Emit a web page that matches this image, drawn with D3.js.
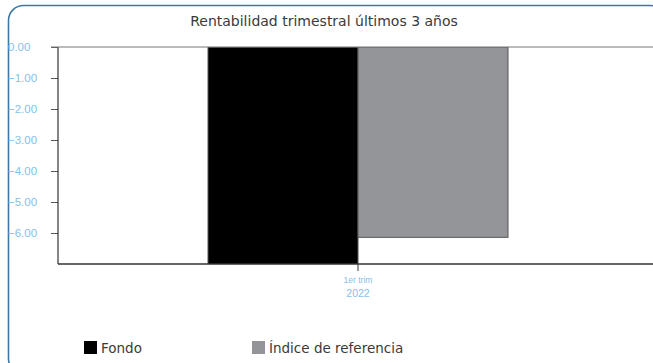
<!DOCTYPE html>
<html>
<head>
<meta charset="utf-8">
<script src="https://cdn.jsdelivr.net/npm/d3@7"></script>
<style>
  body { margin: 0; background: #fff; }
  svg { display: block; font-family: 'DejaVu Sans', sans-serif; }
</style>
</head>
<body>
<div id="chart"></div>
<script>
const categories = ['1er trim|2022'];
const seriesNames = ['Fondo', 'Índice de referencia'];
const seriesColors = ['#000000', '#939598'];
const fondoValues = [-7.3];
const indiceValues = [-6.14];
const yTicks = [0, -1, -2, -3, -4, -5, -6];

const width = 653;
const height = 363;
const margin = { top: 47, right: -5, bottom: 99, left: 58 };

const svg = d3.select('#chart').append('svg').attr('width', width).attr('height', height);

// frame
svg.append('rect')
  .attr('x', 8.5).attr('y', 5.5)
  .attr('width', 657).attr('height', 368)
  .attr('rx', 15)
  .style('fill', 'none')
  .style('stroke', '#3a78a8')
  .style('stroke-width', 1.6);

svg.append('text')
  .attr('x', 324).attr('y', 26)
  .attr('text-anchor', 'middle')
  .style('font-size', '14px')
  .style('fill', '#3a3a3a')
  .text('Rentabilidad trimestral últimos 3 años');

const x = d3.scaleBand()
  .domain(categories)
  .range([margin.left, width - margin.right])
  .paddingInner(0)
  .paddingOuter(0.5);

const xSub = d3.scaleBand().domain(seriesNames).range([0, x.bandwidth()]);

const y = d3.scaleLinear().domain([-7, 0]).range([height - margin.bottom, margin.top]);

svg.append('clipPath').attr('id', 'plot-clip')
  .append('rect')
  .attr('x', margin.left).attr('y', margin.top)
  .attr('width', width - margin.left).attr('height', y(-7) - margin.top);

const rows = categories.map((c, i) => ({ cat: c, values: [fondoValues[i], indiceValues[i]] }));

const g = svg.append('g').attr('clip-path', 'url(#plot-clip)');
rows.forEach(r => {
  g.selectAll(null)
    .data(r.values)
    .enter()
    .append('rect')
    .attr('x', (d, i) => x(r.cat) + xSub(seriesNames[i]))
    .attr('y', y(0))
    .attr('width', xSub.bandwidth())
    .attr('height', d => y(d) - y(0))
    .style('fill', (d, i) => seriesColors[i])
    .style('stroke', '#555')
    .style('stroke-width', 1);
});

// y axis
const yAxis = svg.append('g')
  .attr('transform', `translate(${margin.left},0)`)
  .call(d3.axisLeft(y).tickValues(yTicks).tickSize(7).tickFormat(d3.format('.2f')));
yAxis.select('.domain').remove();
yAxis.selectAll('.tick line').style('stroke', '#555');
yAxis.selectAll('.tick text')
  .attr('x', -50)
  .attr('text-anchor', 'start')
  .style('font-size', '11.5px')
  .style('fill', '#86c0ec');

svg.append('line')
  .attr('x1', margin.left).attr('x2', margin.left)
  .attr('y1', y(0)).attr('y2', y(-7))
  .style('stroke', '#333').style('stroke-width', 1.2);

svg.append('line')
  .attr('x1', margin.left - 7).attr('x2', width)
  .attr('y1', y(0)).attr('y2', y(0))
  .style('stroke', '#777').style('stroke-width', 1.2);

svg.append('line')
  .attr('x1', margin.left).attr('x2', width)
  .attr('y1', y(-7)).attr('y2', y(-7))
  .style('stroke', '#333').style('stroke-width', 1.4);

// x axis
const xAxis = svg.append('g')
  .attr('transform', `translate(0,${y(-7)})`)
  .call(d3.axisBottom(x).tickSize(7).tickFormat(''));
xAxis.select('.domain').remove();
xAxis.selectAll('.tick line').style('stroke', '#333');
xAxis.selectAll('.tick').each(function (d) {
  const parts = d.split('|');
  const t = d3.select(this);
  t.append('text').attr('y', 19).attr('text-anchor', 'middle')
    .style('font-size', '8.5px').style('fill', '#86c0ec').text(parts[0]);
  t.append('text').attr('y', 33).attr('text-anchor', 'middle')
    .style('font-size', '10.5px').style('fill', '#86c0ec').text(parts[1]);
});

// legend
const legendX = [84, 252];
seriesNames.forEach((name, i) => {
  svg.append('rect')
    .attr('x', legendX[i]).attr('y', 341)
    .attr('width', 13).attr('height', 13)
    .style('fill', seriesColors[i]);
  svg.append('text')
    .attr('x', legendX[i] + 17).attr('y', 353)
    .style('font-size', '13.5px')
    .style('fill', '#3a3a3a')
    .text(name);
});
</script>
</body>
</html>
